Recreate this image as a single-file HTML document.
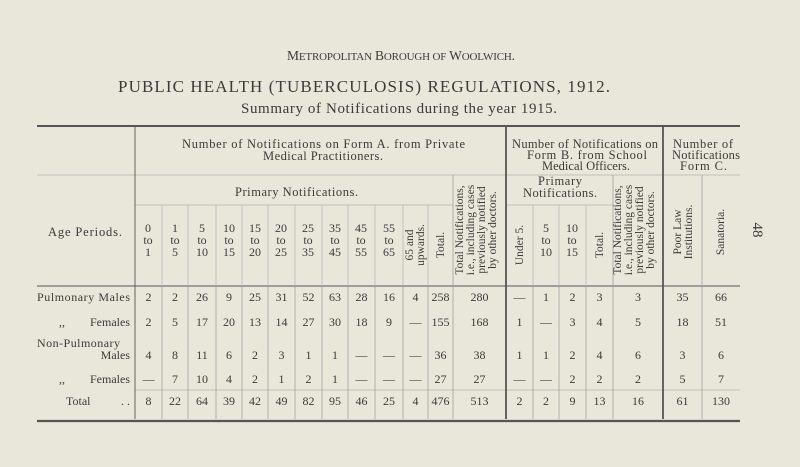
<!DOCTYPE html>
<html><head><meta charset="utf-8"><style>
html,body{margin:0;padding:0;background:#e9e6da;}
svg{display:block;}
text{font-family:"Liberation Serif",serif;fill:#3b3b3b;}
</style></head><body>
<svg width="800" height="467" viewBox="0 0 800 467" xmlns="http://www.w3.org/2000/svg">
<rect width="800" height="467" fill="#e9e6da"/>
<g text-anchor="middle">
<text x="401" y="60" font-size="13.5" textLength="228" lengthAdjust="spacing">M<tspan font-size="11">ETROPOLITAN</tspan> B<tspan font-size="11">OROUGH OF</tspan> W<tspan font-size="11">OOLWICH</tspan>.</text>
<text x="364" y="92" font-size="17" textLength="492" lengthAdjust="spacing">PUBLIC HEALTH (TUBERCULOSIS) REGULATIONS, 1912.</text>
<text x="399" y="113" font-size="15" textLength="316" lengthAdjust="spacing">Summary of Notifications during the year 1915.</text>
</g>
<g stroke="#555" fill="none">
<line x1="37" y1="126" x2="740" y2="126" stroke-width="2"/>
<line x1="37" y1="175" x2="740" y2="175" stroke-width="0.6" stroke="#999"/>
<line x1="135" y1="205" x2="453" y2="205" stroke-width="0.6" stroke="#999"/>
<line x1="506" y1="205" x2="613" y2="205" stroke-width="0.6" stroke="#999"/>
<line x1="37" y1="286" x2="740" y2="286" stroke-width="1"/>
<line x1="135" y1="390" x2="740" y2="390" stroke-width="0.6" stroke="#999"/>
<line x1="37" y1="421" x2="740" y2="421" stroke-width="2.2"/>
<line x1="135" y1="126" x2="135" y2="419" stroke-width="0.9"/>
<line x1="506" y1="126" x2="506" y2="419" stroke-width="1.8"/>
<line x1="663" y1="126" x2="663" y2="419" stroke-width="1.8"/>
<g stroke="#999" stroke-width="0.7">
<line x1="453" y1="175" x2="453" y2="419"/>
<line x1="613" y1="175" x2="613" y2="419"/>
<line x1="702" y1="175" x2="702" y2="419"/>
<line x1="162" y1="286" x2="162" y2="419"/><line x1="188" y1="286" x2="188" y2="419"/>
<line x1="216" y1="286" x2="216" y2="419"/><line x1="242" y1="286" x2="242" y2="419"/>
<line x1="268" y1="286" x2="268" y2="419"/><line x1="295" y1="286" x2="295" y2="419"/>
<line x1="322" y1="286" x2="322" y2="419"/><line x1="348" y1="286" x2="348" y2="419"/>
<line x1="375" y1="286" x2="375" y2="419"/><line x1="403" y1="286" x2="403" y2="419"/>
<line x1="428" y1="286" x2="428" y2="419"/>
<line x1="533" y1="286" x2="533" y2="419"/><line x1="559" y1="286" x2="559" y2="419"/>
<line x1="586" y1="286" x2="586" y2="419"/>
</g>
<g stroke="#aaa" stroke-width="0.6">
<line x1="162" y1="205" x2="162" y2="286"/><line x1="188" y1="205" x2="188" y2="286"/>
<line x1="216" y1="205" x2="216" y2="286"/><line x1="242" y1="205" x2="242" y2="286"/>
<line x1="268" y1="205" x2="268" y2="286"/><line x1="295" y1="205" x2="295" y2="286"/>
<line x1="322" y1="205" x2="322" y2="286"/><line x1="348" y1="205" x2="348" y2="286"/>
<line x1="375" y1="205" x2="375" y2="286"/><line x1="403" y1="205" x2="403" y2="286"/>
<line x1="428" y1="205" x2="428" y2="286"/>
<line x1="533" y1="205" x2="533" y2="286"/><line x1="559" y1="205" x2="559" y2="286"/>
<line x1="586" y1="205" x2="586" y2="286"/>
</g>
</g>
<g font-size="12.5">
<text x="182" y="148" textLength="283" lengthAdjust="spacing">Number of Notifications on Form A. from Private</text>
<text x="263" y="160" textLength="120" lengthAdjust="spacing">Medical Practitioners.</text>
<text x="512" y="148" textLength="146" lengthAdjust="spacing">Number of Notifications on</text>
<text x="527" y="159" textLength="120" lengthAdjust="spacing">Form B. from School</text>
<text x="542" y="170" textLength="88" lengthAdjust="spacing">Medical Officers.</text>
<text x="673" y="148" textLength="60" lengthAdjust="spacing">Number of</text>
<text x="672" y="159" textLength="68" lengthAdjust="spacing">Notifications</text>
<text x="680" y="170" textLength="47" lengthAdjust="spacing">Form C.</text>
<text x="235" y="196" textLength="123" lengthAdjust="spacing">Primary Notifications.</text>
<text x="538" y="185" textLength="44" lengthAdjust="spacing">Primary</text>
<text x="523" y="197" textLength="74" lengthAdjust="spacing">Notifications.</text>
<text x="48" y="236" textLength="74" lengthAdjust="spacing">Age Periods.</text>
</g>
<g text-anchor="middle" font-size="12">
<text x="148" y="232">0</text><text x="148" y="244">to</text><text x="148" y="256">1</text>
<text x="175" y="232">1</text><text x="175" y="244">to</text><text x="175" y="256">5</text>
<text x="202" y="232">5</text><text x="202" y="244">to</text><text x="202" y="256">10</text>
<text x="229" y="232">10</text><text x="229" y="244">to</text><text x="229" y="256">15</text>
<text x="255" y="232">15</text><text x="255" y="244">to</text><text x="255" y="256">20</text>
<text x="281" y="232">20</text><text x="281" y="244">to</text><text x="281" y="256">25</text>
<text x="308" y="232">25</text><text x="308" y="244">to</text><text x="308" y="256">35</text>
<text x="335" y="232">35</text><text x="335" y="244">to</text><text x="335" y="256">45</text>
<text x="361" y="232">45</text><text x="361" y="244">to</text><text x="361" y="256">55</text>
<text x="389" y="232">55</text><text x="389" y="244">to</text><text x="389" y="256">65</text>
<text x="546" y="232">5</text><text x="546" y="244">to</text><text x="546" y="256">10</text>
<text x="572" y="232">10</text><text x="572" y="244">to</text><text x="572" y="256">15</text>
</g>
<g font-size="11.5" text-anchor="middle">
<text transform="translate(415,245) rotate(-90)"><tspan x="0" y="-2">65 and</tspan><tspan x="0" y="9">upwards.</tspan></text>
<text transform="translate(444,245) rotate(-90)">Total.</text>
<text transform="translate(480,230) rotate(-90)"><tspan x="0" y="-17">Total Notifications,</tspan><tspan x="0" y="-6">i.e., including cases</tspan><tspan x="0" y="5">previously notified</tspan><tspan x="0" y="16">by other doctors.</tspan></text>
<text transform="translate(523,245) rotate(-90)">Under 5.</text>
<text transform="translate(603,245) rotate(-90)">Total.</text>
<text transform="translate(638,230) rotate(-90)"><tspan x="0" y="-17">Total Notifications,</tspan><tspan x="0" y="-6">i.e., including cases</tspan><tspan x="0" y="5">previously notified</tspan><tspan x="0" y="16">by other doctors.</tspan></text>
<text transform="translate(683,232) rotate(-90)"><tspan x="0" y="-2">Poor Law</tspan><tspan x="0" y="9">Institutions.</tspan></text>
<text transform="translate(724,232) rotate(-90)">Sanatoria.</text>
<text transform="translate(753,230) rotate(90)" font-size="15">48</text>
</g>
<g font-size="12">
<text x="37" y="301" textLength="93" lengthAdjust="spacing">Pulmonary Males</text>
<text x="59" y="326">,,</text><text x="130" y="326" text-anchor="end">Females</text>
<text x="37" y="347" textLength="83" lengthAdjust="spacing">Non-Pulmonary</text>
<text x="130" y="359" text-anchor="end">Males</text>
<text x="59" y="383">,,</text><text x="130" y="383" text-anchor="end">Females</text>
<text x="66" y="405">Total</text><text x="130" y="405" text-anchor="end">. .</text>
</g>
<g font-size="12" text-anchor="middle" id="d"></g>
<script>
var cx=[148.5,175,202,229,255,281.5,308.5,335,361.5,389,415.5,440.5,479.5,519.5,546,572.5,599.5,638,682.5,721];
var rows=[[301,"2 2 26 9 25 31 52 63 28 16 4 258 280 — 1 2 3 3 35 66"],
[326,"2 5 17 20 13 14 27 30 18 9 — 155 168 1 — 3 4 5 18 51"],
[359,"4 8 11 6 2 3 1 1 — — — 36 38 1 1 2 4 6 3 6"],
[383,"— 7 10 4 2 1 2 1 — — — 27 27 — — 2 2 2 5 7"],
[405,"8 22 64 39 42 49 82 95 46 25 4 476 513 2 2 9 13 16 61 130"]];
var g=document.getElementById('d'),ns="http://www.w3.org/2000/svg";
rows.forEach(function(r){r[1].split(' ').forEach(function(v,i){var t=document.createElementNS(ns,'text');t.setAttribute('x',cx[i]);t.setAttribute('y',r[0]);t.textContent=v;g.appendChild(t);});});
</script>
</svg>
</body></html>
